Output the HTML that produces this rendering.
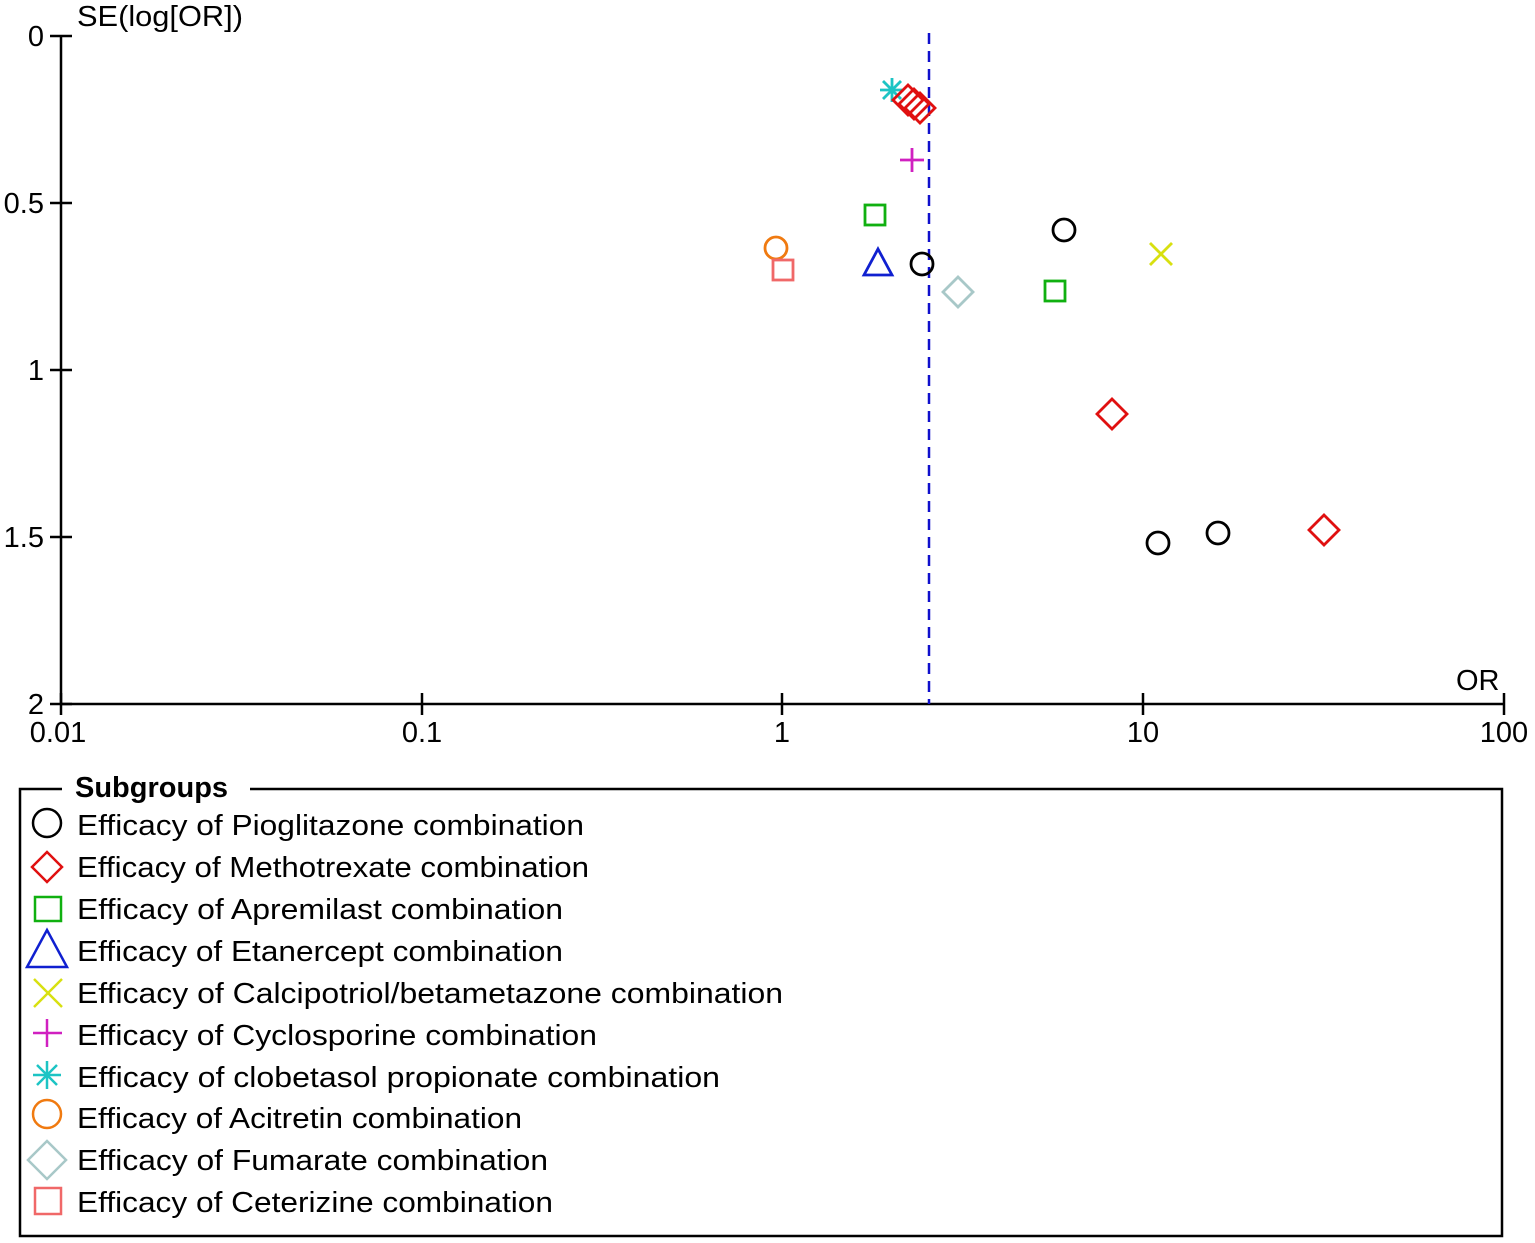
<!DOCTYPE html>
<html><head><meta charset="utf-8"><style>html,body{margin:0;padding:0;background:#fff}svg{display:block}text{font-family:"Liberation Sans",Arial,sans-serif;fill:#000}</style></head><body>
<svg width="1535" height="1243" viewBox="0 0 1535 1243" xmlns="http://www.w3.org/2000/svg">
<g stroke="#000" stroke-width="2.5" fill="none">
<line x1="61" y1="36" x2="61" y2="704"/>
<line x1="61" y1="704" x2="1504" y2="704"/>
<line x1="50" y1="36" x2="72" y2="36"/>
<line x1="50" y1="203" x2="72" y2="203"/>
<line x1="50" y1="370" x2="72" y2="370"/>
<line x1="50" y1="537" x2="72" y2="537"/>
<line x1="50" y1="704" x2="72" y2="704"/>
<line x1="61" y1="693" x2="61" y2="715"/>
<line x1="422" y1="693" x2="422" y2="715"/>
<line x1="782" y1="693" x2="782" y2="715"/>
<line x1="1143" y1="693" x2="1143" y2="715"/>
<line x1="1504" y1="693" x2="1504" y2="715"/>
</g>
<g font-size="29">
<text x="44" y="46" text-anchor="end">0</text>
<text x="44" y="213" text-anchor="end">0.5</text>
<text x="44" y="380" text-anchor="end">1</text>
<text x="44" y="547" text-anchor="end">1.5</text>
<text x="44" y="714" text-anchor="end">2</text>
<text x="58" y="742" text-anchor="middle">0.01</text>
<text x="422" y="742" text-anchor="middle">0.1</text>
<text x="782" y="742" text-anchor="middle">1</text>
<text x="1143" y="742" text-anchor="middle">10</text>
<text x="1504" y="742" text-anchor="middle">100</text>
<text x="77" y="26" textLength="166" lengthAdjust="spacingAndGlyphs">SE(log[OR])</text>
<text x="1456" y="690">OR</text>
</g>
<line x1="929" y1="33" x2="929" y2="704" stroke="#1010cc" stroke-width="2.5" stroke-dasharray="11,7"/>
<g fill="none" stroke-width="2.8">
<g stroke="#1cc4c4"><line x1="880" y1="90" x2="904" y2="90"/><line x1="892" y1="78" x2="892" y2="102"/><line x1="883" y1="81" x2="901" y2="99"/><line x1="883" y1="99" x2="901" y2="81"/></g>
<g stroke="#e01010">
<polygon points="908,85 923,100 908,115 893,100"/>
<polygon points="914,89 929,104 914,119 899,104"/>
<polygon points="920,93 935,108 920,123 905,108"/>
<polygon points="1112,399 1127,414 1112,429 1097,414"/>
<polygon points="1324,515 1339,530 1324,545 1309,530"/>
</g>
<g stroke="#d020c0"><line x1="900" y1="160" x2="924" y2="160"/><line x1="912" y1="148" x2="912" y2="172"/></g>
<g stroke="#10b010"><rect x="865" y="205" width="20" height="20"/><rect x="1045" y="281" width="20" height="20"/></g>
<g stroke="#000"><circle cx="1064" cy="230" r="11"/><circle cx="922" cy="264" r="11"/><circle cx="1158" cy="543" r="11"/><circle cx="1218" cy="533" r="11"/></g>
<circle cx="776" cy="248" r="11" stroke="#f07a10"/>
<rect x="773" y="260" width="20" height="20" stroke="#f06868"/>
<polygon points="878,249 892,275 864,275" stroke="#1020d0"/>
<polygon points="958,277 973,292 958,307 943,292" stroke="#a8c8c8"/>
<g stroke="#d8e010"><line x1="1150" y1="243" x2="1172" y2="265"/><line x1="1150" y1="265" x2="1172" y2="243"/></g>
</g>
<g stroke="#000" stroke-width="2.5" fill="none">
<polyline points="62,789 20,789 20,1236 1502,1236 1502,789 250,789"/>
</g>
<text x="75" y="797" font-size="29" font-weight="bold">Subgroups</text>
<g fill="none" stroke-width="2.5">
<circle cx="47" cy="823" r="14" stroke="#000"/>
<polygon points="47,852 62,867 47,882 32,867" stroke="#e01010"/>
<rect x="35" y="897" width="26" height="24" stroke="#10b010"/>
<polygon points="47,930 67,967 27,967" stroke="#1020d0"/>
<g stroke="#d8e010"><line x1="34" y1="979" x2="62" y2="1007"/><line x1="34" y1="1007" x2="62" y2="979"/></g>
<g stroke="#d020c0"><line x1="33" y1="1033" x2="62" y2="1033"/><line x1="47" y1="1019" x2="47" y2="1047"/></g>
<g stroke="#1cc4c4"><line x1="33" y1="1075" x2="61" y2="1075"/><line x1="47" y1="1061" x2="47" y2="1089"/><line x1="37" y1="1065" x2="57" y2="1085"/><line x1="37" y1="1085" x2="57" y2="1065"/></g>
<circle cx="47" cy="1114" r="14" stroke="#f07a10"/>
<polygon points="47,1141 66,1160 47,1179 28,1160" stroke="#a8c8c8"/>
<rect x="35" y="1188" width="26" height="26" stroke="#f06868"/>
</g>
<g font-size="29">
<text x="77" y="835" textLength="507" lengthAdjust="spacingAndGlyphs">Efficacy of Pioglitazone combination</text>
<text x="77" y="877" textLength="512" lengthAdjust="spacingAndGlyphs">Efficacy of Methotrexate combination</text>
<text x="77" y="919" textLength="486" lengthAdjust="spacingAndGlyphs">Efficacy of Apremilast combination</text>
<text x="77" y="961" textLength="486" lengthAdjust="spacingAndGlyphs">Efficacy of Etanercept combination</text>
<text x="77" y="1003" textLength="706" lengthAdjust="spacingAndGlyphs">Efficacy of Calcipotriol/betametazone combination</text>
<text x="77" y="1045" textLength="520" lengthAdjust="spacingAndGlyphs">Efficacy of Cyclosporine combination</text>
<text x="77" y="1087" textLength="643" lengthAdjust="spacingAndGlyphs">Efficacy of clobetasol propionate combination</text>
<text x="77" y="1128" textLength="445" lengthAdjust="spacingAndGlyphs">Efficacy of Acitretin combination</text>
<text x="77" y="1170" textLength="471" lengthAdjust="spacingAndGlyphs">Efficacy of Fumarate combination</text>
<text x="77" y="1212" textLength="476" lengthAdjust="spacingAndGlyphs">Efficacy of Ceterizine combination</text>
</g>
</svg>
</body></html>
